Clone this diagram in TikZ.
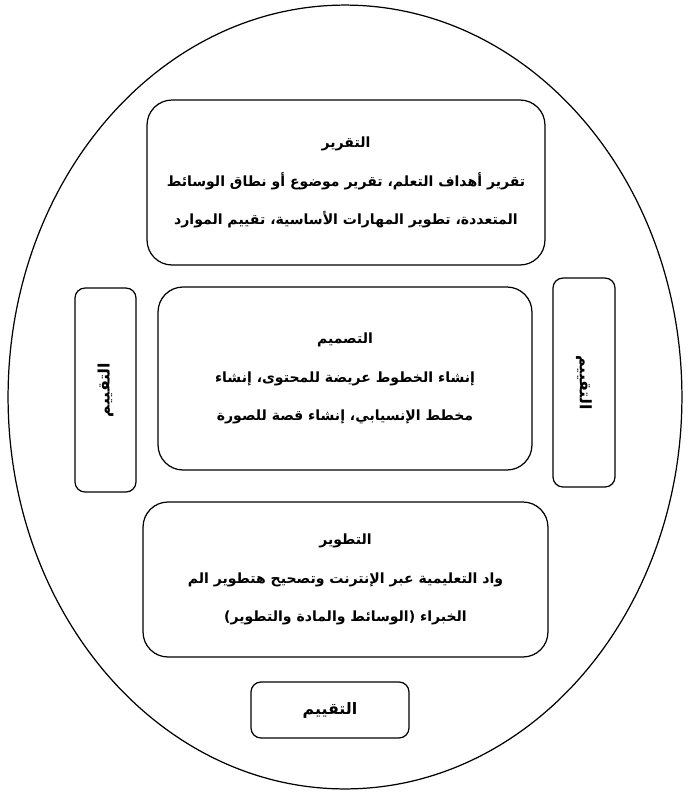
\documentclass[tikz,border=0pt]{standalone}
\usepackage{fontspec}
\newfontfamily\arabicfont[Script=Arabic]{DejaVu Sans}
\TeXXeTstate=1

\tikzset{
  bigbox/.style={draw, line width=0.7pt, rounded corners=0.5cm, align=center,
    font=\arabicfont\bfseries\fontsize{8}{22}\selectfont},
  smallbox/.style={draw, line width=0.7pt, rounded corners=0.2cm,
    font=\arabicfont\bfseries\fontsize{9}{11}\selectfont}
}

\begin{document}
\begin{tikzpicture}[x=0.02cm,y=-0.02cm]
\useasboundingbox (0,0) rectangle (690,796);

\draw [line width=0.7pt] (345,397) ellipse [x radius=6.74cm, y radius=7.84cm];

\node [bigbox, minimum width=7.96cm, minimum height=3.3cm] (taqrir) at (346,182.5)
  {\beginR التقرير\endR\\\beginR تقرير أهداف التعلم، تقرير موضوع أو نطاق الوسائط\endR\\\beginR المتعددة، تطوير المهارات الأساسية، تقييم الموارد\endR};

\node [bigbox, minimum width=7.48cm, minimum height=3.66cm] (tasmim) at (345,378.5)
  {\beginR التصميم\endR\\\beginR إنشاء الخطوط عريضة للمحتوى، إنشاء\endR\\\beginR مخطط الإنسيابي، إنشاء قصة للصورة\endR};

\node [bigbox, minimum width=8.1cm, minimum height=3.1cm] (tatwir) at (345.5,579.5)
  {\beginR التطوير\endR\\\beginR واد التعليمية عبر الإنترنت وتصحيح هتطوير الم\endR\\\beginR الخبراء (الوسائط والمادة والتطوير)\endR};

\node [smallbox, rotate=90, minimum width=4.08cm, minimum height=1.22cm] (taqyimL) at (105.5,390)
  {\beginR التقييم\endR};
\node [smallbox, rotate=-90, minimum width=4.18cm, minimum height=1.24cm] (taqyimR) at (584,382.5)
  {\beginR التقييم\endR};
\node [smallbox, minimum width=3.16cm, minimum height=1.12cm] (taqyimB) at (330,710)
  {\beginR التقييم\endR};
\end{tikzpicture}
\end{document}
